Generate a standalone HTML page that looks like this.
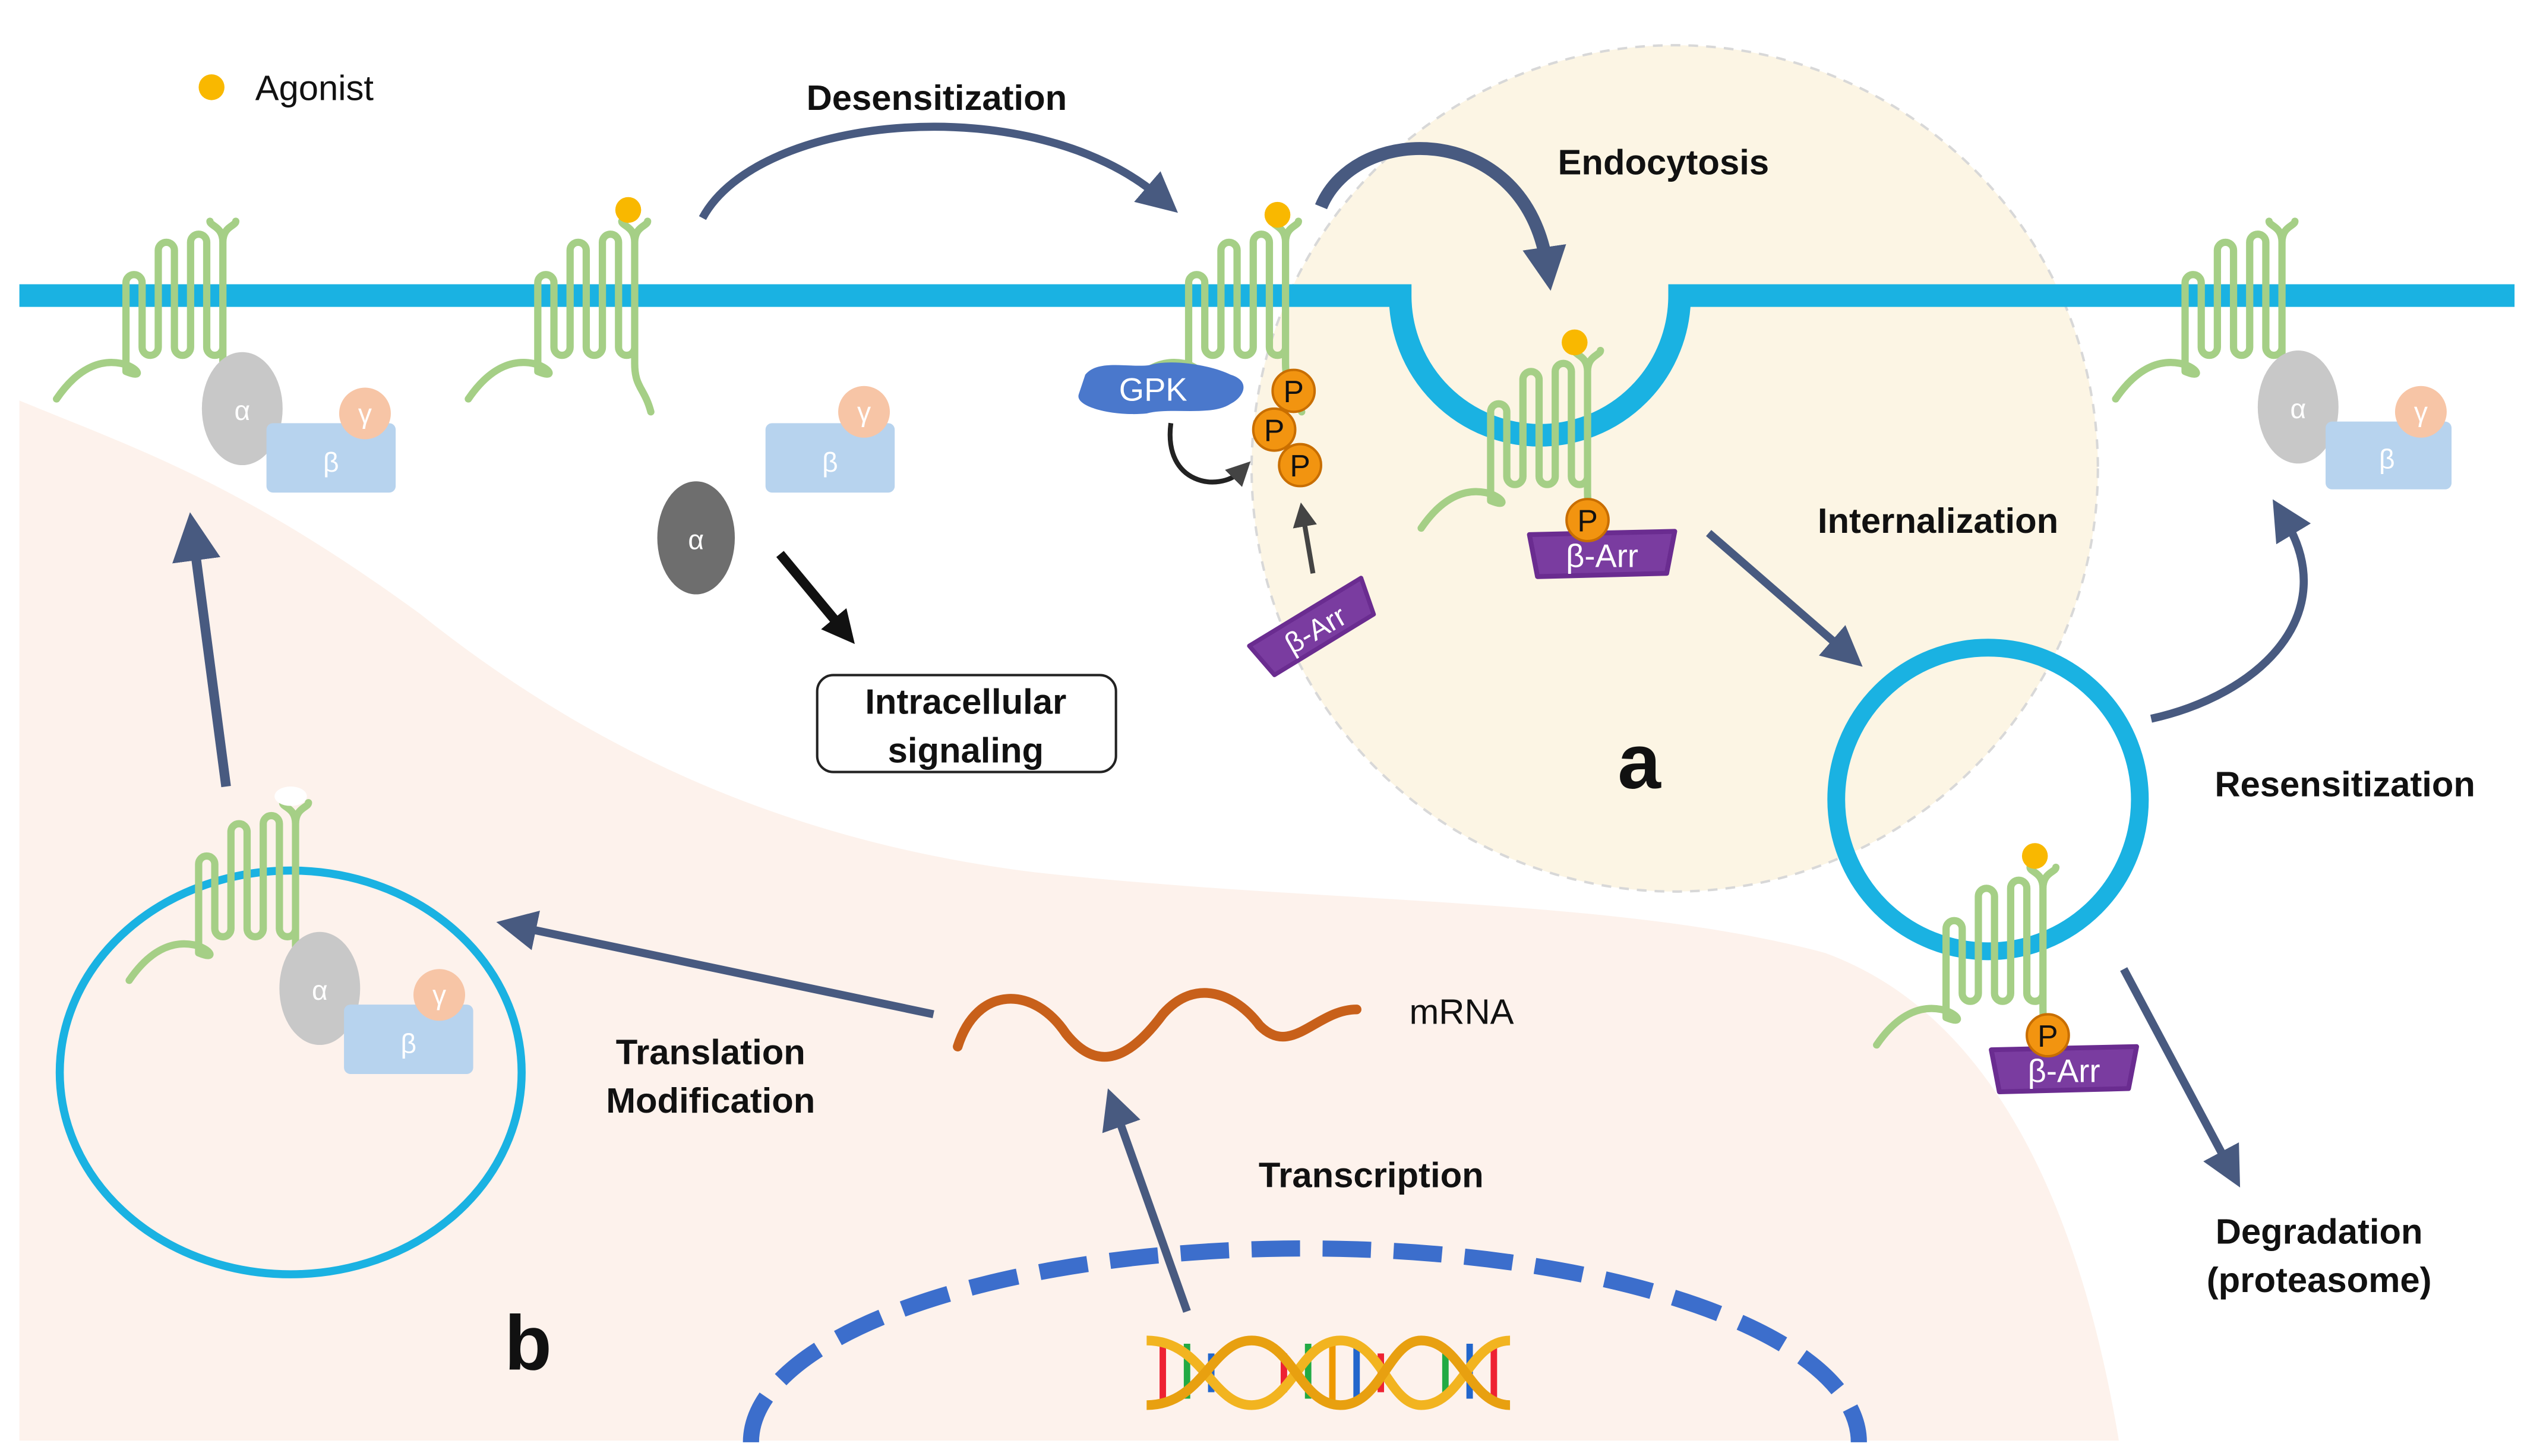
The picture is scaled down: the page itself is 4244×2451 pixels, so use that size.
<!DOCTYPE html>
<html><head><meta charset="utf-8"><style>
html,body{margin:0;padding:0;background:#fff;width:4244px;height:2451px;overflow:hidden}
svg{display:block}
text{font-family:"Liberation Sans",Arial,sans-serif}
.lb{font-weight:bold;font-size:22px;fill:#111;text-anchor:middle}
.gs{font-size:17px;fill:#fff;text-anchor:middle}
</style></head><body>
<svg width="4244" height="2451" viewBox="0 0 1561 901.5" xmlns="http://www.w3.org/2000/svg">
<defs>
<g id="rec" fill="none" stroke="#a5cf86" stroke-width="4.5" stroke-linecap="round" stroke-linejoin="round">
<path d="M-75,62 C-60,40 -45,38 -35,40 C-25,42 -20,50 -32,45 L-32,-10 a5,5 0 0 1 10 0 L-22,30 a5,5 0 0 0 10 0 L-12,-30 a5,5 0 0 1 10 0 L-2,30 a5,5 0 0 0 10 0 L8,-35 a5,5 0 0 1 10 0 L18,30 a5,5 0 0 0 10 0 L28,-35 C28,-45 20,-45 20,-48 M28,-35 C28,-45 36,-45 36,-48 M28,25 L28,40 C28,55 34,55 38,70"/>
</g>
<g id="parr"><path d="M-45,-12 L45,-14 L40,12 L-40,14 Z" fill="#7a3ca0" stroke="#6a2c90" stroke-width="3" stroke-linejoin="round"/><text x="0" y="8" font-size="20" fill="#fff" text-anchor="middle">β-Arr</text></g>
<g id="P"><circle r="13" fill="#f29410" stroke="#c86e00" stroke-width="1.5"/><text y="7" font-size="19" fill="#111" text-anchor="middle">P</text></g>
<marker id="ah" markerWidth="3.4" markerHeight="3.4" refX="1.5" refY="1.7" orient="auto" markerUnits="strokeWidth"><path d="M0,0 L3.4,1.7 L0,3.4 Z" fill="#485a80"/></marker>
<marker id="ah2" markerWidth="5" markerHeight="5" refX="2" refY="2.5" orient="auto" markerUnits="strokeWidth"><path d="M0,0 L5,2.5 L0,5 Z" fill="#485a80"/></marker>
<marker id="ahk" markerWidth="3.4" markerHeight="3.4" refX="1.5" refY="1.7" orient="auto" markerUnits="strokeWidth"><path d="M0,0 L3.4,1.7 L0,3.4 Z" fill="#111"/></marker>
<marker id="ahs" markerWidth="5" markerHeight="5" refX="2" refY="2.5" orient="auto" markerUnits="strokeWidth"><path d="M0,0 L5,2.5 L0,5 Z" fill="#444"/></marker>
</defs>

<path d="M12,248 C90,280 150,300 260,380 C360,460 480,520 640,540 C820,560 1000,555 1130,590 C1240,630 1290,760 1312,892 L12,892 Z" fill="#fdf2ec"/>
<circle cx="1037" cy="290" r="262" fill="#fcf5e4" stroke="#d8d8d8" stroke-width="1.5" stroke-dasharray="6,5"/>
<path d="M465,893 A343,120 0 0 1 1151,893" fill="none" stroke="#3c6ecc" stroke-width="10" stroke-dasharray="30,14"/>

<path d="M12,183 L867,183 A85,85 0 0 0 1040,183 L1557,183" fill="none" stroke="#1ab2e2" stroke-width="14"/>

<ellipse cx="180" cy="664" rx="143" ry="125" fill="none" stroke="#1ab2e2" stroke-width="5"/>
<circle cx="1231" cy="495" r="94" fill="none" stroke="#1ab2e2" stroke-width="11"/>

<circle cx="131" cy="54" r="8" fill="#f9b800"/>
<text x="158" y="62" font-size="22" fill="#111">Agonist</text>

<use href="#rec" x="110" y="185"/>
<ellipse cx="150" cy="253" rx="25" ry="35" fill="#c8c8c8"/><text x="150" y="260" class="gs">α</text>
<rect x="165" y="262" width="80" height="43" rx="4" fill="#b7d3ee"/><text x="205" y="292" class="gs">β</text>
<circle cx="226" cy="256" r="16" fill="#f7c5a6"/><text x="226" y="262" class="gs">γ</text>

<use href="#rec" x="365" y="185"/>
<circle cx="389" cy="130" r="8" fill="#f9b800"/>
<rect x="474" y="262" width="80" height="43" rx="4" fill="#b7d3ee"/><text x="514" y="292" class="gs">β</text>
<circle cx="535" cy="255" r="16" fill="#f7c5a6"/><text x="535" y="261" class="gs">γ</text>
<ellipse cx="431" cy="333" rx="24" ry="35" fill="#6e6e6e"/><text x="431" y="340" class="gs">α</text>
<line x1="483" y1="343" x2="522" y2="390" stroke="#111" stroke-width="6" marker-end="url(#ahk)"/>
<rect x="506" y="418" width="185" height="60" rx="10" fill="#fff" stroke="#222" stroke-width="1.5"/>
<text x="598" y="442" class="lb">Intracellular</text><text x="598" y="472" class="lb">signaling</text>

<path d="M435,135 C470,70 640,55 718,122" fill="none" stroke="#485a80" stroke-width="5" marker-end="url(#ah2)"/>
<text x="580" y="68" class="lb">Desensitization</text>

<use href="#rec" x="768" y="185"/>
<circle cx="791" cy="133" r="8" fill="#f9b800"/>
<path d="M672,232 C680,222 700,228 712,226 C725,222 750,226 762,232 C775,236 770,246 762,250 C750,258 725,252 710,256 C690,258 665,252 668,244 Z" fill="#4a78cc"/>
<text x="714" y="248" font-size="20" fill="#fff" text-anchor="middle">GPK</text>
<use href="#P" x="801" y="242"/><use href="#P" x="789" y="266"/><use href="#P" x="805" y="288"/>
<path d="M725,262 C720,300 755,305 768,292" fill="none" stroke="#222" stroke-width="3" marker-end="url(#ahs)"/>
<use href="#parr" transform="translate(814,389) rotate(-30) scale(0.9)"/>
<line x1="813" y1="355" x2="807" y2="320" stroke="#444" stroke-width="3" marker-end="url(#ahs)"/>

<path d="M818,128 C840,75 945,75 958,165" fill="none" stroke="#485a80" stroke-width="8" marker-end="url(#ah)"/>
<text x="1030" y="108" class="lb">Endocytosis</text>

<use href="#rec" x="955" y="265"/>
<circle cx="975" cy="212" r="8" fill="#f9b800"/>
<use href="#parr" x="992" y="343"/>
<use href="#P" x="983" y="322"/>

<text x="1200" y="330" class="lb">Internalization</text>
<line x1="1058" y1="330" x2="1142" y2="403" stroke="#485a80" stroke-width="5" marker-end="url(#ah2)"/>
<text x="1015" y="488" font-size="48" font-weight="bold" fill="#111" text-anchor="middle">a</text>

<use href="#rec" x="1237" y="585"/>
<circle cx="1260" cy="530" r="8" fill="#f9b800"/>
<use href="#parr" x="1278" y="662"/>
<use href="#P" x="1268" y="641"/>

<path d="M1332,445 C1400,430 1450,380 1415,322" fill="none" stroke="#485a80" stroke-width="5" marker-end="url(#ah2)"/>
<text x="1452" y="493" class="lb">Resensitization</text>

<use href="#rec" x="1385" y="185"/>
<ellipse cx="1423" cy="252" rx="25" ry="35" fill="#c8c8c8"/><text x="1423" y="259" class="gs">α</text>
<rect x="1440" y="261" width="78" height="42" rx="4" fill="#b7d3ee"/><text x="1478" y="290" class="gs">β</text>
<circle cx="1499" cy="255" r="16" fill="#f7c5a6"/><text x="1499" y="261" class="gs">γ</text>

<line x1="1315" y1="600" x2="1380" y2="722" stroke="#485a80" stroke-width="5" marker-end="url(#ah2)"/>
<text x="1436" y="770" class="lb">Degradation</text>
<text x="1436" y="800" class="lb">(proteasome)</text>

<line x1="140" y1="487" x2="120" y2="335" stroke="#485a80" stroke-width="6" marker-end="url(#ah2)"/>

<use href="#rec" x="155" y="545"/>
<ellipse cx="180" cy="493" rx="10" ry="6" fill="#fff"/>
<ellipse cx="198" cy="612" rx="25" ry="35" fill="#c8c8c8"/><text x="198" y="619" class="gs">α</text>
<rect x="213" y="622" width="80" height="43" rx="4" fill="#b7d3ee"/><text x="253" y="652" class="gs">β</text>
<circle cx="272" cy="616" r="16" fill="#f7c5a6"/><text x="272" y="622" class="gs">γ</text>

<line x1="578" y1="628" x2="322" y2="574" stroke="#485a80" stroke-width="5" marker-end="url(#ah2)"/>
<text x="440" y="659" class="lb">Translation</text>
<text x="440" y="689" class="lb">Modification</text>

<path d="M593,648 C605,610 640,610 660,640 C680,665 700,655 720,628 C740,605 765,615 780,635 C800,655 815,625 840,625" fill="none" stroke="#c8601a" stroke-width="6" stroke-linecap="round"/>
<text x="905" y="634" font-size="22" fill="#111" text-anchor="middle">mRNA</text>

<line x1="735" y1="812" x2="691" y2="688" stroke="#485a80" stroke-width="5" marker-end="url(#ah2)"/>
<text x="849" y="735" class="lb">Transcription</text>

<g stroke-width="4">
<line x1="720" y1="830" x2="720" y2="868" stroke="#e23"/><line x1="735" y1="832" x2="735" y2="866" stroke="#2a4"/>
<line x1="750" y1="838" x2="750" y2="862" stroke="#26c"/><line x1="795" y1="838" x2="795" y2="862" stroke="#e23"/>
<line x1="810" y1="832" x2="810" y2="866" stroke="#2a4"/><line x1="825" y1="830" x2="825" y2="868" stroke="#e90"/>
<line x1="840" y1="832" x2="840" y2="866" stroke="#26c"/><line x1="855" y1="838" x2="855" y2="862" stroke="#e23"/>
<line x1="895" y1="838" x2="895" y2="862" stroke="#2a4"/><line x1="910" y1="832" x2="910" y2="866" stroke="#26c"/>
<line x1="925" y1="830" x2="925" y2="868" stroke="#e23"/>
</g>
<path d="M710,830 C745,830 750,870 775,870 C800,870 805,830 830,830 C855,830 860,870 880,870 C905,870 910,830 935,830" fill="none" stroke="#f2b420" stroke-width="6"/>
<path d="M710,870 C745,870 750,830 775,830 C800,830 805,870 830,870 C855,870 860,830 880,830 C905,830 910,870 935,870" fill="none" stroke="#e8a010" stroke-width="6"/>

<text x="327" y="848" font-size="48" font-weight="bold" fill="#111" text-anchor="middle">b</text>
</svg>
</body></html>
